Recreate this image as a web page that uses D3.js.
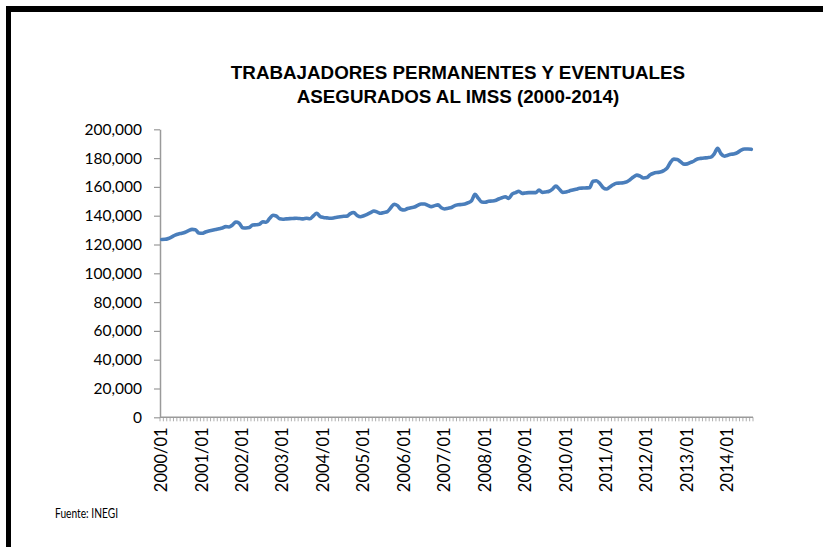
<!DOCTYPE html>
<html><head><meta charset="utf-8">
<script src="https://cdn.jsdelivr.net/npm/d3@7"></script>
<style>html,body{margin:0;padding:0;background:#fff;}svg{display:block;}</style>
</head><body>
<svg id="c" width="823" height="547"></svg>
<script>
const titleLines = ["TRABAJADORES PERMANENTES Y EVENTUALES", "ASEGURADOS AL IMSS (2000-2014)"];
const source = "Fuente: INEGI";
const years = d3.range(2000, 2015);
// monthly categories 2000/01 .. 2014/08
const months = [];
years.forEach(y => { for (let m = 1; m <= 12; m++) { if (y === 2014 && m > 8) break; months.push(y + "/" + String(m).padStart(2, "0")); } });
const yTicks = [0, 20000, 40000, 60000, 80000, 100000, 120000, 140000, 160000, 180000, 200000];
const values = [
  // 2000
  123500,123600,124200,125300,126500,127300,127800,128500,129600,130500,130300,128000,
  // 2001
  127800,128700,129400,129900,130400,130900,131500,132400,132200,133500,135600,134800,
  // 2002
  131700,131500,131800,133500,133700,134000,135800,135400,138000,140300,139800,137800,
  // 2003
  137500,137800,138000,138100,138200,138000,137800,138200,137900,139800,141700,139500,
  // 2004
  138800,138500,138200,138400,138900,139300,139600,139700,141500,142200,140200,139300,
  // 2005
  140000,141000,142200,143300,142500,141700,142300,142900,145500,148000,147000,144500,
  // 2006
  144000,145000,145600,146000,147200,148100,148100,147200,146300,147000,147500,145500,
  // 2007
  144700,145200,145700,147000,147600,147800,148200,149000,150500,154800,152000,149500,
  // 2008
  149300,150000,150200,150500,151600,152500,153200,152000,155000,156000,157000,155500,
  // 2009
  155800,156000,156000,156000,157800,156200,156500,157000,158500,160600,158500,156200,
  // 2010
  156500,157200,157800,158400,159000,159200,159300,159400,164000,164300,162500,159500,
  // 2011
  158500,160000,161500,162500,162700,162900,163500,165000,166800,168200,167500,166200,
  // 2012
  166500,168500,169500,170000,170300,171300,173000,177000,179300,179000,177500,175800,
  // 2013
  176000,177000,178000,179400,179800,180100,180300,180700,183000,186800,183000,181300,
  // 2014
  182000,182600,183000,184000,185600,186300,186300,186100
];
const data = months.map((m, i) => ({ m, v: values[i] }));

const svg = d3.select("#c");
// frame bars
svg.append("rect").attr("x", 6).attr("y", 6).attr("width", 817).attr("height", 6).attr("fill", "#000");
svg.append("rect").attr("x", 6).attr("y", 6).attr("width", 5).attr("height", 541).attr("fill", "#000");

const pLeft = 160, pRight = 753, pTop = 129.3, pBottom = 417.3;
const x = d3.scalePoint().domain(months).range([pLeft, pRight]).padding(0.5);
const y = d3.scaleLinear().domain([0, 200000]).range([pBottom, pTop]);

// title
svg.append("text").attr("x", 458).attr("y", 78.5).attr("text-anchor", "middle")
  .style("font-family", "'Liberation Sans', Arial, sans-serif").style("font-weight", "bold").style("font-size", "18.8px")
  .text(titleLines[0]);
svg.append("text").attr("x", 458).attr("y", 102.5).attr("text-anchor", "middle")
  .style("font-family", "'Liberation Sans', Arial, sans-serif").style("font-weight", "bold").style("font-size", "18.8px")
  .text(titleLines[1]);

const fmt = d3.format(",");
const axisColor = "#9a9a9a";
// y axis
const ya = svg.append("g").attr("transform", `translate(${pLeft},0)`)
  .call(d3.axisLeft(y).tickValues(yTicks).tickFormat(fmt).tickSize(6).tickSizeOuter(0).tickPadding(12));
ya.select(".domain").attr("stroke", axisColor).attr("stroke-width", 1.5);
ya.selectAll(".tick line").attr("stroke", axisColor).attr("stroke-width", 1.2);
ya.selectAll("text").style("font-family", "Lato, 'Open Sans', sans-serif").style("font-size", "15.5px").attr("fill", "#000");

// x axis: monthly ticks, yearly labels
const edges = d3.range(months.length + 1).map(i => pLeft + (pRight - pLeft) * i / months.length);
const xg = svg.append("g");
xg.selectAll("line.mt").data(edges).join("line").attr("class", "mt")
  .attr("x1", d => d).attr("x2", d => d).attr("y1", pBottom).attr("y2", pBottom + 4)
  .attr("stroke", axisColor).attr("stroke-width", 0.8);
xg.append("line").attr("x1", pLeft).attr("x2", pRight).attr("y1", pBottom).attr("y2", pBottom)
  .attr("stroke", axisColor).attr("stroke-width", 1.5);
const yearLabels = months.filter(m => m.endsWith("/01"));
xg.selectAll("text").data(yearLabels).join("text")
  .attr("transform", d => `translate(${x(d) + 5.5},${pBottom + 10}) rotate(-90)`)
  .attr("text-anchor", "end")
  .style("font-family", "Lato, 'Open Sans', sans-serif").style("font-size", "16.5px")
  .text(d => d);

// line
const line = d3.line().x(d => x(d.m)).y(d => y(d.v)).curve(d3.curveMonotoneX);
svg.append("path").datum(data).attr("d", line).attr("fill", "none")
  .attr("stroke", "#4a7ebb").attr("stroke-width", 3.6).attr("stroke-linejoin", "round").attr("stroke-linecap", "round");

// source
svg.append("text").attr("x", 55).attr("y", 518)
  .attr("textLength", 63).attr("lengthAdjust", "spacingAndGlyphs")
  .style("font-family", "Lato, 'Open Sans', sans-serif").style("font-size", "12.5px")
  .text(source);
</script>
</body></html>
